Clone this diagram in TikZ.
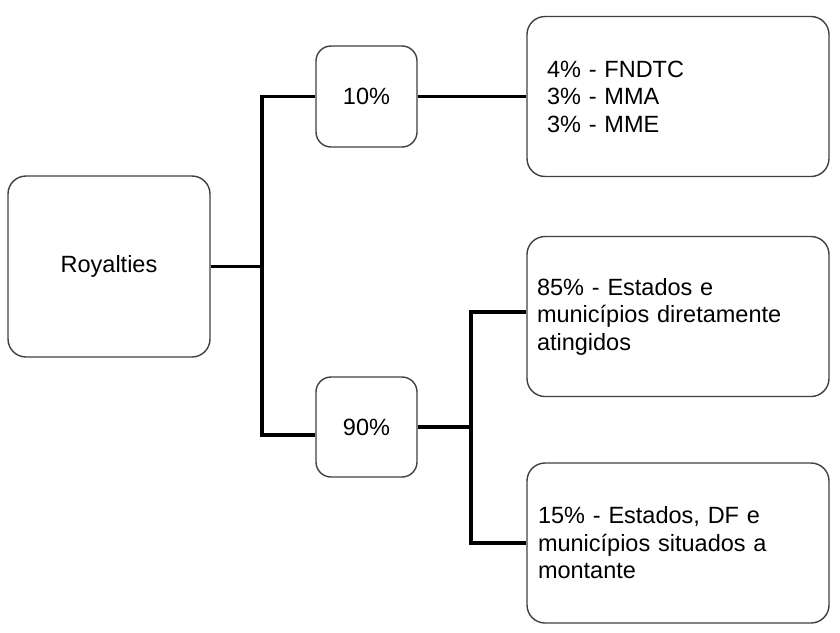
\documentclass[tikz,border=0pt]{standalone}
\usepackage{fontspec}
\setmainfont{Liberation Sans}
\usepackage{tikz}
\usetikzlibrary{positioning}
\usetikzlibrary{calc}
\tikzstyle{box}=[draw=black!75,line width=1.4pt,fill=white,rounded corners=18pt,font=\fontsize{23.5}{27.5}\selectfont]
\tikzstyle{link}=[line width=3.2pt,black]

\begin{document}
\begin{tikzpicture}[x=1pt,y=-1pt]
\tikzstyle{small}=[box,rounded corners=15pt,minimum width=101pt,minimum height=101pt]
\tikzstyle{wide}=[box,minimum width=302pt,minimum height=160pt,align=left]
\useasboundingbox (0,0) rectangle (840,632);
    \node [box,minimum width=202pt,minimum height=181pt] (roy) at (109,266.5) {Royalties};
    \node [small] (p10) at (366.5,96.5) {10\%};
    \node [small,minimum height=100pt] (p90) at (366.5,427) {90\%};
    \node [wide,text width=262pt,inner xsep=20pt] (fund) at (678,96.5)
        {4\% - FNDTC\\3\% - MMA\\3\% - MME};
    \node [wide,text width=282pt,inner xsep=10pt] (dir) at (678,316.5)
        {85\% - Estados e\\munic\'ipios diretamente\\atingidos};
    \node [wide,text width=280pt,inner xsep=11pt] (mon) at (678,543)
        {15\% - Estados, DF e\\munic\'ipios situados a\\montante};

\coordinate (j1) at (262,266.5);
\coordinate (j2) at (471,427);
\draw [link] (roy.east) -- (j1);
\draw [link] (p10.west) -| (j1) |- ([yshift=-8pt]p90.west);
\draw [link] (p10.east) -- (fund.west);
\draw [link] (p90.east) -- (j2);
\draw [link] ([yshift=4.5pt]dir.west) -| (j2) |- (mon.west);
\end{tikzpicture}
\end{document}
